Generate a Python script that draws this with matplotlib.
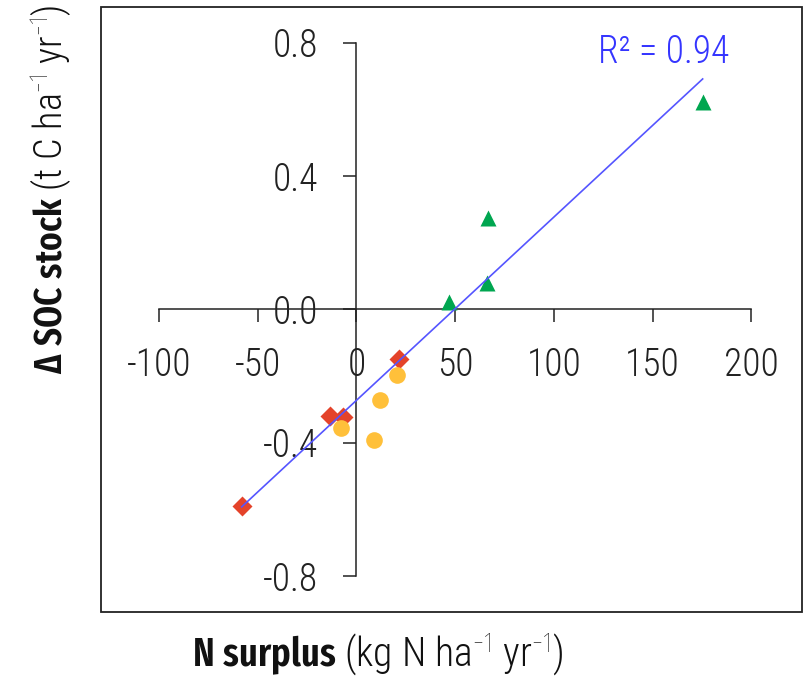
import matplotlib

matplotlib.use("Agg")
import matplotlib.pyplot as plt
import numpy as np
from matplotlib.patches import Rectangle

# values
tri_x = [46.8, 66.7, 65.9, 175.3]
tri_y = [0.023, 0.273, 0.078, 0.623]
dia_x = [21.5, -13.4, -7.0, -58.1]
dia_y = [-0.150, -0.320, -0.322, -0.590]
dot_x = [20.7, 11.9, -8.0, 8.9]
dot_y = [-0.197, -0.272, -0.357, -0.392]

fit_slope = 0.0055
fit_intercept = -0.273
r2_label = "R\u00b2 = 0.94"

x_ticks = [-100, -50, 0, 50, 100, 150, 200]
y_ticks = [-0.8, -0.4, 0.0, 0.4, 0.8]

C_TRI = "#00A650"
C_DIA = "#E4432A"
C_DOT = "#FFC03A"
C_FIT = "#5555FF"
C_TXT = "#222222"

FONT = ["Roboto Condensed", "DejaVu Sans"]
LABEL_FONT = "Fira Sans Extra Condensed"
plt.rcParams["font.family"] = FONT
plt.rcParams["font.weight"] = "light"
plt.rcParams["axes.unicode_minus"] = False
plt.rcParams["mathtext.fontset"] = "custom"
plt.rcParams["mathtext.rm"] = LABEL_FONT + ":light"
plt.rcParams["mathtext.it"] = LABEL_FONT + ":light"
plt.rcParams["mathtext.bf"] = LABEL_FONT + ":semibold"

W, H = 806, 684
fig = plt.figure(figsize=(W / 100, H / 100), dpi=100)
fig.patch.set_facecolor("white")

# frame box in pixel coords
bx0, bx1, by_top, by_bot = 100.5, 802.0, 7.0, 612.0
ax = fig.add_axes([bx0 / W, 1 - by_bot / H, (bx1 - bx0) / W, (by_bot - by_top) / H])
ax.set_xlim(-129.6, 225.6)
ax.set_ylim(-0.908, 0.907)

ax.add_patch(
    Rectangle((0, 0), 1, 1, transform=ax.transAxes, fill=False, lw=1.3,
              edgecolor="#222222", clip_on=False, zorder=10)
)

for side in ["top", "right"]:
    ax.spines[side].set_visible(False)
ax.spines["left"].set_position(("data", 0))
ax.spines["bottom"].set_position(("data", 0))
ax.spines["left"].set_bounds(-0.8, 0.8)
ax.spines["bottom"].set_bounds(-100, 200)
for side in ["left", "bottom"]:
    ax.spines[side].set_linewidth(1.1)
    ax.spines[side].set_color("#222222")

ax.set_xticks(x_ticks)
ax.set_xticklabels([str(v) for v in x_ticks])
ax.set_yticks(y_ticks)
ax.set_yticklabels([f"{v:.1f}" for v in y_ticks])
ax.tick_params(axis="both", direction="out", length=9.5, width=1.1,
               color="#222222", labelsize=27, labelcolor=C_TXT)
ax.tick_params(axis="y", pad=18)
ax.tick_params(axis="x", pad=17)

ax.plot(tri_x, tri_y, "^", ms=12, color=C_TRI, mec="none", zorder=3)
ax.plot(dia_x, dia_y, "D", ms=10.5, color=C_DIA, mec="none", zorder=3)
ax.plot(dot_x, dot_y, "o", ms=12, color=C_DOT, mec="none", zorder=4)

all_x = np.array(tri_x + dia_x + dot_x)
lx = np.array([all_x.min(), all_x.max()])
ax.plot(lx, fit_slope * lx + fit_intercept, color=C_FIT, lw=1.2, zorder=5)

ax.text(122.3, 0.739, r2_label, fontsize=27, color="#3535FF",
        ha="left", va="baseline")

fig.text(378 / W, 1 - 667 / H,
         r"$\mathbf{N\ surplus}$ (kg N ha$^{-1}$ yr$^{-1}$)",
         fontsize=28.5, color="#111111", ha="center", va="baseline")
fig.text(51 / W, 1 - 189 / H,
         r"$\mathbf{\Delta\ SOC\ stock}$ (t C ha$^{-1}$ yr$^{-1}$)",
         fontsize=27.5, color="#111111", ha="center", va="center", rotation=90)

fig.savefig("out.png", dpi=100, facecolor="white")
